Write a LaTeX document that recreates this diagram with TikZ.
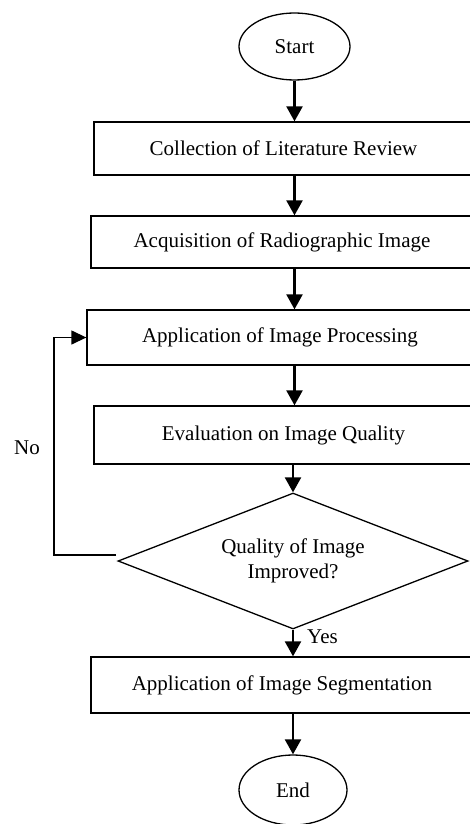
\documentclass[tikz,border=0pt]{standalone}
\usepackage{fontspec}
\setmainfont{Liberation Serif}
\usepackage{tikz}
\usetikzlibrary{arrows.meta}
\usetikzlibrary{shapes.geometric}

\begin{document}
\begin{tikzpicture}[x=1pt, y=-1pt,
	font=\fontsize{21}{25}\selectfont,
	procbox/.style={draw, line width=1.3pt, rectangle, inner sep=0pt},
	termnode/.style={draw, line width=1.3pt, ellipse, inner sep=0pt},
	decnode/.style={draw, line width=1.3pt, diamond, aspect=2.57, inner sep=0pt, align=center},
	flow/.style={line width=2.3pt, -{Triangle[length=15pt, width=16pt]}},
	backflow/.style={line width=1.3pt, -{Triangle[length=15pt, width=14pt]}}]
	\useasboundingbox (0,0) rectangle (469,824);
	%
	\node[termnode, minimum width=111pt, minimum height=67pt] (start) at (294.5,46.5) {Start};
	\node[procbox, minimum width=379pt, minimum height=53pt] (lit) at (283.5,148.5) {Collection of Literature Review};
	\node[procbox, minimum width=382pt, minimum height=52pt] (acq) at (282,242) {Acquisition of Radiographic Image};
	\node[procbox, minimum width=386pt, minimum height=55pt] (proc) at (280,337.5) {Application of Image Processing};
	\node[procbox, minimum width=379pt, minimum height=58pt] (eval) at (283.5,435) {Evaluation on Image Quality};
	\node[decnode, minimum width=350pt, minimum height=136pt] (qual) at (293,561) {Quality of Image\\Improved?};
	\node[procbox, minimum width=382pt, minimum height=56pt] (seg) at (282,685) {Application of Image Segmentation};
	\node[termnode, minimum width=108pt, minimum height=70pt] (end) at (293,790) {End};
	%
	\draw[flow] (start) -- (start |- lit.north);
	\draw[flow] (lit.south -| start) -- (acq.north -| start);
	\draw[flow] (acq.south -| start) -- (proc.north -| start);
	\draw[flow] (proc.south -| start) -- (eval.north -| start);
	\draw[flow] (eval.south -| qual) -- (qual.north);
	\draw[flow] (qual.south) -- (seg.north -| qual);
	\draw[flow] (seg.south -| end) -- (end);
	%
	\coordinate (noStart) at (116,555);
	\coordinate (noBend) at (54,555);
	\draw[backflow] (noStart) -- (noBend) |- (proc.west);
	\node (no) at (27,448) {No};
	\node[anchor=west, inner sep=0pt] (yes) at (307,637) {Yes};
\end{tikzpicture}
\end{document}
